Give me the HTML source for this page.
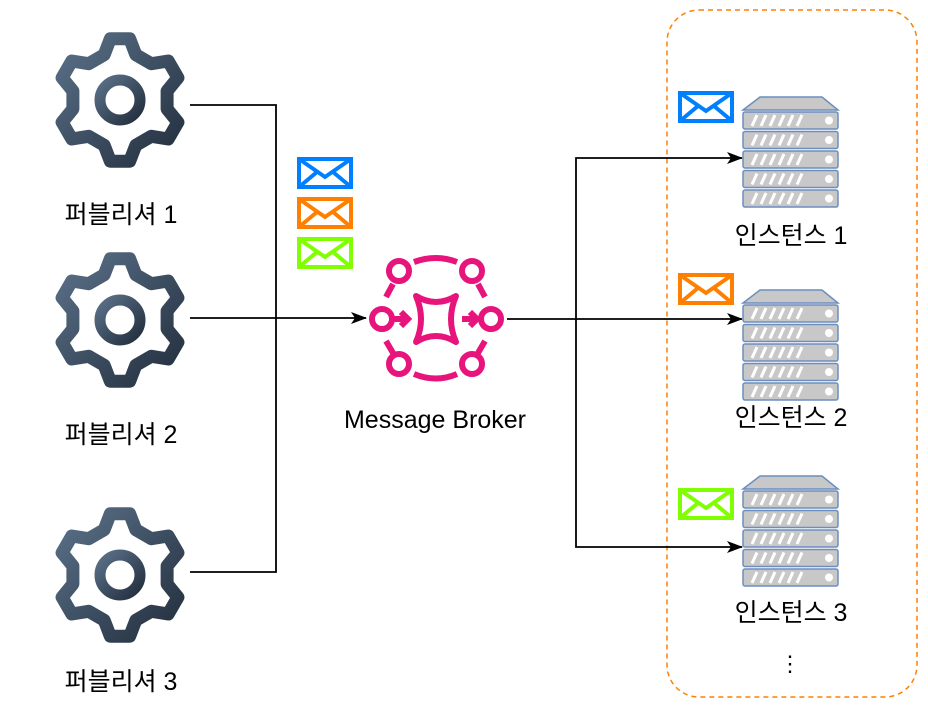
<!DOCTYPE html>
<html><head><meta charset="utf-8"><style>
html,body{margin:0;padding:0;background:#fff;}
svg{display:block}
text{font-family:"Liberation Sans","Noto Sans CJK KR",sans-serif;font-size:25px;fill:#000}
</style></head><body>
<svg id="s" width="928" height="717" viewBox="0 0 928 717" xmlns="http://www.w3.org/2000/svg">
<defs>
<linearGradient id="g" x1="0" y1="0" x2="1" y2="1"><stop offset="0" stop-color="#5a7088"/><stop offset="1" stop-color="#232f3e"/></linearGradient>
<marker id="a" markerWidth="16" markerHeight="12" refX="15" refY="6" orient="auto" markerUnits="userSpaceOnUse"><path d="M0,0 L16,6 L0,12 L4,6z" fill="#000"/></marker>
</defs>
<rect x="667" y="10" width="250" height="687" rx="32" fill="none" stroke="#ff8000" stroke-width="1.5" stroke-dasharray="5,4"/>
<g fill="none" stroke="#000" stroke-width="1.8">
<path d="M190,105 H276 V572 H190"/>
<path d="M190,318 H366" marker-end="url(#a)"/>
<path d="M507,319 H576 V158 H742" marker-end="url(#a)"/>
<path d="M576,319 H742" marker-end="url(#a)"/>
<path d="M576,319 V547 H742" marker-end="url(#a)"/>
</g>
<g id="gears"></g>
<g id="servers"></g>
<g id="env"></g>
<g fill="none" stroke="#e7157b" stroke-width="6">
<circle cx="399" cy="271" r="10"/><circle cx="472" cy="271" r="10"/>
<circle cx="382" cy="319" r="10"/><circle cx="491" cy="319" r="10"/>
<circle cx="399" cy="364" r="10"/><circle cx="472" cy="364" r="10"/>
<path d="M414,262 Q436,254 457,262"/><path d="M414,374 Q436,383 457,374"/>
<path d="M393,284 L386,297 M478,284 L485,297 M386,341 L393,353 M485,341 L478,353"/>
<path d="M392,319 H408 M401,312 L408,319 L401,326"/>
<path d="M462,319 H476 M470,312 L477,319 L470,326"/>
<path d="M416,296 Q436,308 456,296 Q446,319 456,342 Q436,330 416,342 Q426,319 416,296Z" stroke-linejoin="round"/>
</g>
<text x="121" y="223" text-anchor="middle">퍼블리셔 1</text>
<text x="121" y="443" text-anchor="middle">퍼블리셔 2</text>
<text x="121" y="690" text-anchor="middle">퍼블리셔 3</text>
<text x="435" y="428" text-anchor="middle">Message Broker</text>
<text x="791" y="244" text-anchor="middle">인스턴스 1</text>
<text x="791" y="426" text-anchor="middle">인스턴스 2</text>
<text x="791" y="621" text-anchor="middle">인스턴스 3</text>
<text x="790" y="671" text-anchor="middle" style="font-size:22px">⋮</text>
</svg>
<script>
var NS="http://www.w3.org/2000/svg";
function el(p,t,a){var e=document.createElementNS(NS,t);for(var k in a)e.setAttribute(k,a[k]);p.appendChild(e);return e;}
var G=document.getElementById("gears");
[[120,100],[120,320],[120,575]].forEach(function(c){
 var pts=[],n=6,R1=62,R2=48;
 for(var i=0;i<n;i++){
  var b=(i/n)*2*Math.PI-Math.PI/2;
  var d=2*Math.PI/n;
  var angs=[[b-d*0.15,R1],[b+d*0.15,R1],[b+d*0.32,R2],[b+d*0.68,R2]];
  angs.forEach(function(a){pts.push((c[0]+a[1]*Math.cos(a[0])).toFixed(1)+","+(c[1]+a[1]*Math.sin(a[0])).toFixed(1));});
 }
 el(G,"polygon",{points:pts.join(" "),fill:"none",stroke:"url(#g)","stroke-width":13,"stroke-linejoin":"round"});
 el(G,"circle",{cx:c[0],cy:c[1],r:20,fill:"none",stroke:"url(#g)","stroke-width":11});
});
var S=document.getElementById("servers");
[97,290,476].forEach(function(y){
 el(S,"path",{d:"M760,"+y+" H822 L838,"+(y+13)+" H743Z",fill:"#c8c8c8",stroke:"#6c8ebf","stroke-width":1.5});
 for(var i=0;i<5;i++){
  var uy=y+15+i*19.5;
  el(S,"rect",{x:743,y:uy,width:95,height:17,rx:2,fill:"#c8c8c8",stroke:"#6c8ebf","stroke-width":1.5});
  for(var j=0;j<6;j++){el(S,"path",{d:"M"+(752+j*9)+","+(uy+14)+" L"+(757+j*9)+","+(uy+3),stroke:"#fff","stroke-width":3});}
  el(S,"circle",{cx:829,cy:uy+8.5,r:4,fill:"#fff"});
 }
});
var E=document.getElementById("env");
[[297,157,"#007fff"],[297,197,"#ff8000"],[297,237,"#80ff00"],[678,91,"#007fff"],[678,273,"#ff8000"],[678,488,"#80ff00"]].forEach(function(e){
 var x=e[0],y=e[1];
 el(E,"rect",{x:x+2,y:y+2,width:52,height:28,fill:"#fff",stroke:e[2],"stroke-width":4});
 el(E,"path",{d:"M"+(x+2)+","+(y+2)+" L"+(x+28)+","+(y+20)+" L"+(x+54)+","+(y+2)+" M"+(x+2)+","+(y+30)+" L"+(x+20)+","+(y+15)+" M"+(x+54)+","+(y+30)+" L"+(x+36)+","+(y+15),fill:"none",stroke:e[2],"stroke-width":4});
});
</script>
</body></html>
